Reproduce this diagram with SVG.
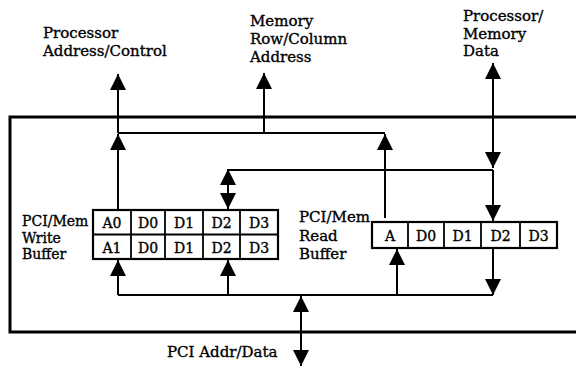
<svg xmlns="http://www.w3.org/2000/svg" width="576" height="367" viewBox="0 0 576 367">
<defs>
<marker id="ah" viewBox="0 0 16 16" refX="16" refY="8" markerWidth="16" markerHeight="16" markerUnits="userSpaceOnUse" orient="auto-start-reverse">
<path d="M0,0 L16,8 L0,16 z" fill="#000"/>
</marker>
<style>
text{font-family:"DejaVu Serif","Liberation Serif",serif;font-size:15px;fill:#000;stroke:#000;stroke-width:0.35}
.sm{font-size:14px}
.cell{font-size:14px;text-anchor:middle}
.ln{fill:none;stroke:#000;stroke-width:2}
.arr{fill:none;stroke:#000;stroke-width:2;marker-end:url(#ah)}
.bi{fill:none;stroke:#000;stroke-width:2;marker-start:url(#ah);marker-end:url(#ah)}
.box{fill:#fff;stroke:#000;stroke-width:2.2}
.div{stroke:#000;stroke-width:1.8}
</style>
</defs>
<rect width="576" height="367" fill="#fff"/>

<g id="enclosure">
<path d="M590,117 H10 V332 H590" fill="none" stroke="#000" stroke-width="3"/>
</g>

<g id="connectors">
<path class="arr" d="M118,133 V74"/>
<path class="ln" d="M118,133 H385"/>
<path class="arr" d="M118,210 V134"/>
<path class="arr" d="M264,133 V73"/>
<path class="arr" d="M385,218 V134"/>
<path class="bi" d="M493,168 V63"/>
<path class="ln" d="M228,170 H493"/>
<path class="arr" d="M493,170 V221"/>
<path class="bi" d="M228,209 V169"/>
<path class="ln" d="M118,295 H493"/>
<path class="arr" d="M118,295 V260"/>
<path class="arr" d="M228,295 V260"/>
<path class="arr" d="M397,295 V249"/>
<path class="arr" d="M493,248 V295"/>
<path class="bi" d="M301,366 V296"/>
</g>

<g id="label-proc-addr">
<text x="43" y="38">Processor</text>
<text x="43" y="56">Address/Control</text>
</g>
<g id="label-mem-addr">
<text x="250" y="26">Memory</text>
<text x="250" y="44">Row/Column</text>
<text x="250" y="62">Address</text>
</g>
<g id="label-proc-data">
<text x="463" y="21">Processor/</text>
<text x="463" y="39">Memory</text>
<text x="463" y="56">Data</text>
</g>

<g id="write-buffer">
<text class="sm" x="22" y="226">PCI/Mem</text>
<text class="sm" x="22" y="242.5">Write</text>
<text class="sm" x="22" y="259">Buffer</text>
<rect class="box" x="93" y="210" width="185" height="49"/>
<line class="div" x1="93" y1="234.5" x2="278" y2="234.5"/>
<line class="div" x1="131" y1="210" x2="131" y2="259"/>
<line class="div" x1="165" y1="210" x2="165" y2="259"/>
<line class="div" x1="203" y1="210" x2="203" y2="259"/>
<line class="div" x1="240" y1="210" x2="240" y2="259"/>
<text class="cell" x="112" y="228">A0</text>
<text class="cell" x="148" y="228">D0</text>
<text class="cell" x="184" y="228">D1</text>
<text class="cell" x="221.5" y="228">D2</text>
<text class="cell" x="259" y="228">D3</text>
<text class="cell" x="112" y="253">A1</text>
<text class="cell" x="148" y="253">D0</text>
<text class="cell" x="184" y="253">D1</text>
<text class="cell" x="221.5" y="253">D2</text>
<text class="cell" x="259" y="253">D3</text>
</g>

<g id="read-buffer">
<text x="299" y="222">PCI/Mem</text>
<text x="299" y="241">Read</text>
<text x="299" y="259">Buffer</text>
<rect class="box" x="372" y="222" width="185" height="26"/>
<line class="div" x1="408" y1="222" x2="408" y2="248"/>
<line class="div" x1="444" y1="222" x2="444" y2="248"/>
<line class="div" x1="481" y1="222" x2="481" y2="248"/>
<line class="div" x1="520" y1="222" x2="520" y2="248"/>
<text class="cell" x="390" y="241">A</text>
<text class="cell" x="426" y="241">D0</text>
<text class="cell" x="462.5" y="241">D1</text>
<text class="cell" x="500.5" y="241">D2</text>
<text class="cell" x="538.5" y="241">D3</text>
</g>

<g id="label-pci">
<text x="167" y="357">PCI Addr/Data</text>
</g>
</svg>
